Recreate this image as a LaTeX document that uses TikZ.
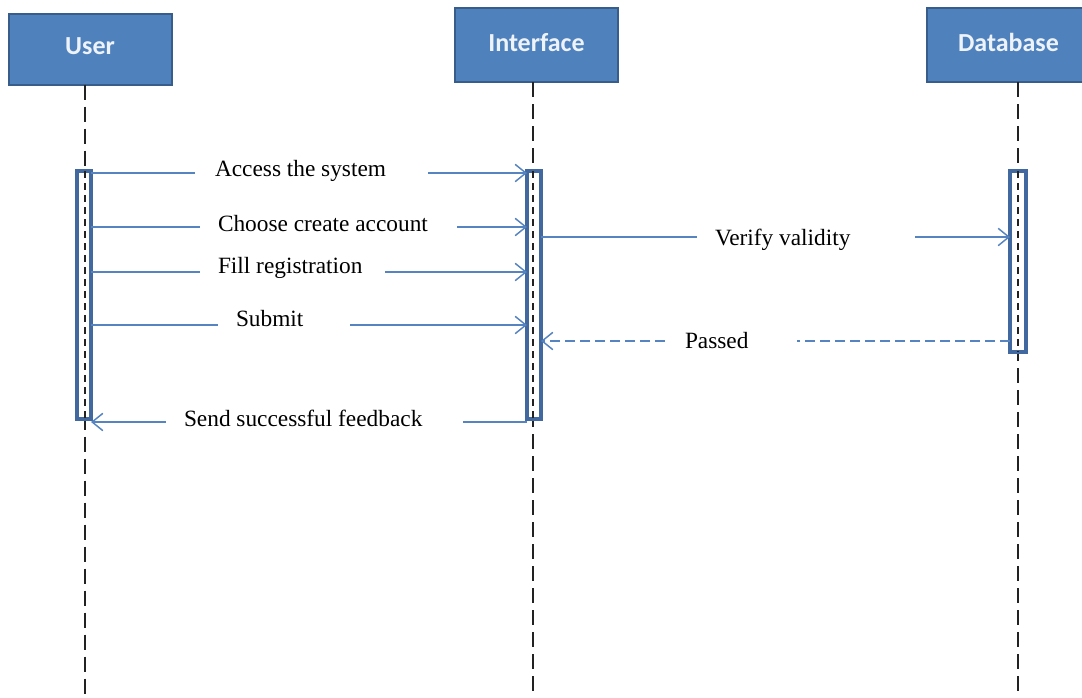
\documentclass[tikz,border=0pt]{standalone}
\usepackage{fontspec}
\setmainfont{Liberation Serif}
\newfontfamily\boxfont{Carlito}
\usetikzlibrary{arrows.meta}
\definecolor{boxfill}{HTML}{4F81BD}
\definecolor{boxline}{HTML}{385D8A}
\definecolor{barline}{HTML}{41699F}
\definecolor{msgline}{HTML}{5584C0}
\definecolor{lblwhite}{HTML}{EEF3FA}
\definecolor{life}{HTML}{222222}
\newdimen\pxu \pxu=0.75pt
\tikzset{
  actor/.style={draw=boxline, line width=1.5pt, fill=boxfill, inner sep=0pt, outer sep=0pt,
    font=\boxfont\bfseries\fontsize{19.5}{22}\selectfont, text=lblwhite},
  lifeline/.style={draw=life, line width=1.2pt, dash pattern=on 11.25pt off 5.25pt},
  innerlife/.style={draw=life, line width=1.2pt, dash pattern=on 5.5pt off 3.5pt},
  actbar/.style={draw=barline, line width=3pt, fill=white, inner sep=0pt, outer sep=0pt,
    minimum width=14\pxu},
  msg/.style={draw=msgline, line width=1.1pt, -{Straight Barb[length=8pt,width=13pt,line width=1.1pt]}},
  reply/.style={msg, dash pattern=on 7.5pt off 3.75pt},
  lbl/.style={fill=white, inner xsep=0pt, inner ysep=1pt, font=\fontsize{17.5}{20}\selectfont, text=black}
}
\begin{document}
\begin{tikzpicture}[x=0.75pt,y=-0.75pt]
\useasboundingbox (0,0) rectangle (1082,697);
% actor boxes
\node[actor, minimum width=163\pxu, minimum height=71\pxu] (user) at (90,49) {\raisebox{4pt}{User}};
\node[actor, minimum width=163\pxu, minimum height=74\pxu] (iface) at (536.5,45) {\raisebox{4pt}{Interface}};
\node[actor, minimum width=163\pxu, minimum height=74\pxu] (db) at (1008.5,45) {\raisebox{4pt}{Database}};
% lifeline ends
\coordinate (uend) at (85,697);
\coordinate (iend) at (533,697);
\coordinate (dend) at (1018,697);
\draw[lifeline] (user.south -| uend) -- (uend);
\draw[lifeline] (iface.south -| iend) -- (iend);
\draw[lifeline] (db.south -| dend) -- (dend);
% activation bars
\node[actbar, minimum height=248\pxu] (ubar) at (84,295) {};
\node[actbar, minimum height=248\pxu] (ibar) at (534,295) {};
\node[actbar, minimum width=16\pxu, minimum height=181\pxu] (dbar) at (1018,261.5) {};
\draw[innerlife] (ubar.north -| uend) -- (ubar.south -| uend);
\draw[innerlife] (ibar.north -| iend) -- (ibar.south -| iend);
\draw[innerlife] (dbar.north -| dend) -- (dbar.south -| dend);
% messages
\draw[msg] (ubar.east |- 0,173) -- (ibar.west |- 0,173);
\draw[msg] (ubar.east |- 0,227) -- (ibar.west |- 0,227);
\draw[msg] (ubar.east |- 0,272) -- (ibar.west |- 0,272);
\draw[msg] (ubar.east |- 0,325) -- (ibar.west |- 0,325);
\draw[msg] (ibar.east |- 0,237) -- (dbar.west |- 0,237);
\draw[reply] (dbar.west |- 0,341) -- (ibar.east |- 0,341);
\draw[msg] (ibar.west |- 0,422) -- (ubar.east |- 0,422);
% labels
\node[lbl] (l1) at (311.5,171) {\makebox[233\pxu][l]{\hspace{20\pxu}Access the system}};
\node[lbl] (l2) at (328.5,224) {\makebox[257\pxu][l]{\hspace{18\pxu}Choose create account}};
\node[lbl] (l3) at (292.5,268) {\makebox[185\pxu][l]{\hspace{18\pxu}Fill registration}};
\node[lbl] (l4) at (284,319) {\makebox[132\pxu][l]{\hspace{18\pxu}Submit}};
\node[lbl] (l5) at (806,240) {\makebox[218\pxu][l]{\hspace{18\pxu}Verify validity}};
\node[lbl] (l6) at (732,341) {\makebox[130\pxu][l]{\hspace{18\pxu}Passed}};
\node[lbl] (l7) at (314.5,418) {\makebox[297\pxu][l]{\hspace{18\pxu}Send successful feedback}};
\end{tikzpicture}
\end{document}
